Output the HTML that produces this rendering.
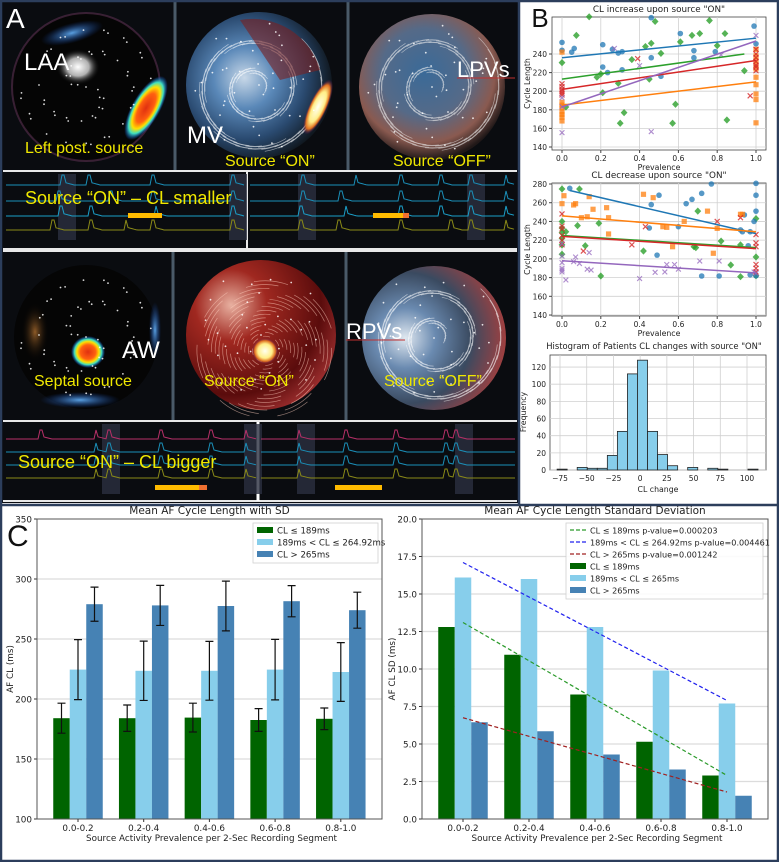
<!DOCTYPE html>
<html><head><meta charset="utf-8">
<style>
html,body{margin:0;padding:0;background:#fff;}
svg{display:block;font-family:"DejaVu Sans","Liberation Sans",sans-serif;}
</style></head>
<body>
<svg id="fig" width="779" height="862" viewBox="0 0 779 862" xmlns="http://www.w3.org/2000/svg">
<defs>
  <radialGradient id="gLAA" cx="0.5" cy="0.5" r="0.5"><stop offset="0" stop-color="#fff"/><stop offset="0.5" stop-color="#ddd" stop-opacity="0.8"/><stop offset="1" stop-color="#000" stop-opacity="0"/></radialGradient>
  <radialGradient id="gJet" cx="0.5" cy="0.5" r="0.5"><stop offset="0" stop-color="#e03010"/><stop offset="0.45" stop-color="#ff6010"/><stop offset="0.65" stop-color="#ffe000"/><stop offset="0.8" stop-color="#40e0c0"/><stop offset="1" stop-color="#1060ff" stop-opacity="0"/></radialGradient>
  <radialGradient id="gHot" cx="0.5" cy="0.5" r="0.5"><stop offset="0" stop-color="#fffff0"/><stop offset="0.55" stop-color="#ffee88"/><stop offset="0.8" stop-color="#e07020"/><stop offset="1" stop-color="#501060" stop-opacity="0"/></radialGradient>
  <radialGradient id="gBlue" cx="0.5" cy="0.5" r="0.5"><stop offset="0" stop-color="#5aa0e0"/><stop offset="1" stop-color="#1040a0" stop-opacity="0"/></radialGradient>
  <radialGradient id="gS2" cx="0.4" cy="0.45" r="0.6"><stop offset="0" stop-color="#c8d8e8"/><stop offset="0.35" stop-color="#5a88b8"/><stop offset="0.7" stop-color="#2a4a70"/><stop offset="1" stop-color="#101820"/></radialGradient>
  <radialGradient id="gS3" cx="0.45" cy="0.4" r="0.6"><stop offset="0" stop-color="#3a6a98"/><stop offset="0.5" stop-color="#556a88"/><stop offset="0.8" stop-color="#8a5a50"/><stop offset="1" stop-color="#201818"/></radialGradient>
  <radialGradient id="gRed" cx="0.3" cy="0.3" r="0.8"><stop offset="0" stop-color="#e8b0a0"/><stop offset="0.3" stop-color="#a02820"/><stop offset="0.75" stop-color="#5a0c0c"/><stop offset="1" stop-color="#a03030"/></radialGradient>
  <radialGradient id="gR3" cx="0.3" cy="0.5" r="0.7"><stop offset="0" stop-color="#e0e8f0"/><stop offset="0.3" stop-color="#6a8ab0"/><stop offset="0.65" stop-color="#3a4a60"/><stop offset="1" stop-color="#a04040"/></radialGradient>
  <radialGradient id="gOr" cx="0.5" cy="0.5" r="0.5"><stop offset="0" stop-color="#b07030" stop-opacity="0.8"/><stop offset="1" stop-color="#000" stop-opacity="0"/></radialGradient>
</defs>
<rect x="0" y="0" width="779" height="862" fill="#fff"/>
<g id="panelA"></g>
<g id="panelB"></g>
<g id="panelC"></g>
</svg>
<script>
// ===== Panel C data =====
const groups = ["0.0-0.2","0.2-0.4","0.4-0.6","0.6-0.8","0.8-1.0"];
const meanLow = [184,184,184.5,182.5,183.5];
const meanMid = [224.5,223.5,223.5,224.5,222.5];
const meanHigh = [279,278,277.5,281.5,274];
const sdLow = [12.5,11,12,9.5,9];
const sdMid = [25,24.7,24.5,25.2,24.5];
const sdHigh = [14.2,16.7,20.7,13,15];
const cTicksLeft = [100,150,200,250,300,350];
const sdValLow = [12.8,10.95,8.3,5.15,2.9];
const sdValMid = [16.1,16.0,12.8,9.9,7.7];
const sdValHigh = [6.45,5.85,4.3,3.3,1.55];
const trendStart = [13.1,17.1,6.75];
const trendEnd = [2.9,7.9,1.8];
const cTicksRight = [0,2.5,5,7.5,10,12.5,15,17.5,20];
// ===== Panel B data =====
const incBlue = [[0,252.5],[0,244],[0.05,242],[0.063,246],[0.21,250],[0.21,226],[0.235,220],[0.26,245],[0.29,241],[0.31,242.5],[0.31,223],[0.46,279],[0.46,236],[0.51,216],[0.61,262],[0.68,236],[0.68,243.6],[0.79,242.5],[0.99,270],[1,251]];
const incGreen = [[0,230.7],[0.074,260],[0.14,280],[0.18,215],[0.2,218.5],[0.21,198.4],[0.29,208.5],[0.3,165.5],[0.32,177],[0.36,234],[0.43,248],[0.46,251.5],[0.45,213],[0.48,275],[0.51,240.7],[0.585,186],[0.57,165.5],[0.61,253],[0.67,260],[0.71,262],[0.76,276],[0.8,249],[0.84,262],[0.85,169],[0.94,222],[0.02,183]];
const incRed = [[0,208],[0,205],[0,202],[0,200],[0,198],[0,196],[0.39,235],[0.97,195],[1,245],[1,240],[1,236],[1,232],[1,228],[1,226],[1,222]];
const incOrange = [[0,242],[0,188],[0,185],[0,182],[0,178],[0,175],[0,172],[0,168],[1,245],[1,238],[1,233],[1,228],[1,224],[1,215],[1,207],[1,197],[1,191],[1,166]];
const incPurple = [[0,155.4],[0,183.4],[0,193],[0.27,246],[0.40,227.5],[0.46,156.5],[1,260],[0.82,239]];
const incFitIntercept = [236,185,213,202,183];
const incFitSlope = [21,25,28.7,31,71];
const incFitEnd = [1,1,0.94,1,1];
const decBlue = [[0.04,275.4],[0.46,258],[0.5,268],[0.49,204],[0.6,234.4],[0.64,259],[0.67,263.6],[0.72,270],[0.72,181.7],[0.81,181.7],[0.45,233],[0.92,231],[0.93,229],[0.94,247],[0.96,214],[0.97,229],[0.97,183],[0.99,240],[1,280.7],[1,268],[1,251],[1,182],[0.77,280]];
const decGreen = [[0,274.7],[0.09,274.7],[0,240],[0,233],[0,228],[0,222],[0,215],[0,205],[0.02,229],[0.08,235.5],[0.19,238],[0.12,214],[0.2,181.7],[0.42,208.4],[0.7,251],[0.68,213],[0.69,212],[0.82,219],[0.87,193.5],[0.92,215],[0.92,181],[1,243],[1,202],[1,182]];
const decOrange = [[0,259],[0.01,267.5],[0.06,257.6],[0.07,259],[0.1,244],[0.13,245],[0.14,266.5],[0.16,253],[0.23,254.7],[0.24,244],[0.24,226.6],[0.42,269],[0.47,265.4],[0.52,234.4],[0.54,233.7],[0.57,213],[0.63,240],[0.75,251],[0.78,206],[0.8,232.6],[0.92,247.6],[0.93,247.6]];
const decRed = [[0,248],[0,235],[0,232],[0,225],[0,220],[0,215],[0.11,208.4],[0.36,215],[0.43,234.4],[0.8,240],[0.92,244],[1,226],[1,217],[1,213],[1,194],[1,190],[1,186]];
const decPurple = [[0,216],[0,203],[0,196],[0,190],[0,188],[0,186],[0.02,177.5],[0.06,197],[0.07,202],[0.09,195],[0.14,206.7],[0.13,189],[0.15,188],[0.4,179],[0.48,185.6],[0.53,186],[0.54,194],[0.58,194],[0.6,189],[0.71,197.7],[0.81,197.7],[0.99,186],[1,184.6]];
const decFitIntercept = [275,246,225,224,198];
const decFitSlope = [-48,-17,-13,-13,-13];
const decFitStart = [0.04,0,0,0,0];
const histCounts = [1,0,3,2,2,17,45,112,128,45,18,5,0,3,0,2,1,0,0,1];
const histBinStart = -77.7;
const histBinWidth = 9.4;
const scatterYTicks1 = [140,160,180,200,220,240];
const scatterYTicks2 = [140,160,180,200,220,240,260,280];
const prevTicks = [0,0.2,0.4,0.6,0.8,1.0];
const histXTicks = [-75,-50,-25,0,25,50,75,100];
const histYTicks = [0,20,40,60,80,100,120];

const NS="http://www.w3.org/2000/svg";
function mk(parent,tag,attrs,text){const e=document.createElementNS(NS,tag);for(const k in attrs)e.setAttribute(k,attrs[k]);if(text!==undefined)e.textContent=text;parent.appendChild(e);return e;}

// ================= PANEL A =================
const A=document.getElementById('panelA');
mk(A,'rect',{x:2,y:2,width:517,height:501,fill:'#0a0c10'});
[[175,2,175,170],[348,2,348,170],[173,252,173,420],[346,252,346,420]].forEach(l=>{const e=mk(A,'line',{x1:l[0],y1:l[1],x2:l[2],y2:l[3],stroke:'#4a5a68','stroke-width':3});});
[[3,171,517,171],[3,249,517,249],[3,251,517,251],[3,421,517,421],[3,501,517,501]].forEach(l=>{mk(A,'line',{x1:l[0],y1:l[1],x2:l[2],y2:l[3],stroke:'#e8e8e8','stroke-width':2});});
mk(A,'line',{x1:247,y1:172,x2:247,y2:249,stroke:'#e8e8e8','stroke-width':2});
mk(A,'line',{x1:258,y1:422,x2:258,y2:501,stroke:'#ffffff','stroke-width':3});

function sphere(cx,cy,r,fill,name){const g=mk(A,'g',{});
  mk(g,'circle',{cx:cx,cy:cy,r:r,fill:fill});
  return g;}
function streaks(g,cx,cy,r,col,n){for(let i=0;i<n;i++){const a=i*2.39996;const rr=r*(0.15+0.8*((i*37)%n)/n);const x=cx+rr*Math.cos(a),y=cy+rr*Math.sin(a);const x2=cx+rr*Math.cos(a+0.5),y2=cy+rr*Math.sin(a+0.5);
  mk(g,'path',{d:`M${x.toFixed(1)},${y.toFixed(1)} A${rr.toFixed(1)},${rr.toFixed(1)} 0 0 1 ${x2.toFixed(1)},${y2.toFixed(1)}`,stroke:col,'stroke-width':0.7,fill:'none',opacity:0.55});}}
function dots(g,cx,cy,r,n){for(let i=0;i<n;i++){const a=i*2.4+0.3;const rr=r*Math.sqrt(((i*53)%n)/n)*0.95;mk(g,'circle',{cx:(cx+rr*Math.cos(a)).toFixed(1),cy:(cy+rr*Math.sin(a)).toFixed(1),r:0.9,fill:'#fff',opacity:0.85});}}
let s=sphere(86,87,74,'#050505','sphere-laa');
mk(s,'circle',{cx:86,cy:87,r:74,fill:'none',stroke:'#5a3050','stroke-width':2,opacity:0.6});
mk(s,'ellipse',{cx:72,cy:33,rx:32,ry:10,fill:'url(#gBlue)',transform:'rotate(-15 72 33)'});
mk(s,'ellipse',{cx:78,cy:67,rx:22,ry:18,fill:'url(#gLAA)'});
mk(s,'ellipse',{cx:146,cy:108,rx:14,ry:36,fill:'url(#gJet)',transform:'rotate(30 146 108)'});
dots(s,86,87,70,60);
s=sphere(259,85,73,'url(#gS2)','sphere-mv-on');
streaks(s,255,88,72,'#fff',120);
mk(s,'ellipse',{cx:318,cy:107,rx:9,ry:30,fill:'url(#gHot)',transform:'rotate(25 318 107)'});
mk(s,'path',{d:'M240,20 A70,70 0 0 1 320,70 L280,80 Z',fill:'#7a2020',opacity:0.6});
dots(s,259,85,70,40);
s=sphere(432,87,73,'url(#gS3)','sphere-lpvs-off');
streaks(s,432,87,72,'#eee',120);
dots(s,432,87,70,40);
s=sphere(86,337,72,'#050505','sphere-septal');
mk(s,'ellipse',{cx:35,cy:332,rx:14,ry:30,fill:'url(#gOr)'});
mk(s,'ellipse',{cx:155,cy:330,rx:6,ry:28,fill:'url(#gBlue)'});
mk(s,'ellipse',{cx:80,cy:400,rx:40,ry:8,fill:'url(#gBlue)'});
mk(s,'ellipse',{cx:88,cy:352,rx:17,ry:16,fill:'url(#gJet)'});
dots(s,86,337,70,60);
s=sphere(261,335,75,'url(#gRed)','sphere-septal-on');
streaks(s,265,350,74,'#ffd0c0',110);
mk(s,'ellipse',{cx:265,cy:351,rx:13,ry:13,fill:'url(#gHot)'});
dots(s,261,335,70,35);
s=sphere(434,338,72,'url(#gR3)','sphere-rpvs-off');
streaks(s,434,338,72,'#fff',120);
dots(s,434,338,70,35);

function trace(x0,x1,y,col,spikes,amp,name){let d=`M${x0},${y}`;for(let x=x0;x<=x1;x+=2){let v=0;spikes.forEach(sp=>{const dx=x-sp;if(dx>=0&&dx<3)v=-amp;else if(dx>=3&&dx<12)v=-amp*0.25*(1-(dx-3)/9);});d+=` L${x},${(y+v).toFixed(1)}`;}
  const e=mk(A,'path',{d:d,stroke:col,'stroke-width':1,fill:'none'});}
function bands(xs,y0,y1){xs.forEach(x=>mk(A,'rect',{x:x,y:y0,width:18,height:y1-y0,fill:'#2a3040',opacity:0.8}));}
bands([58,229],174,240);bands([298,467],174,240);
bands([102,244],424,494);bands([297,455],424,494);
const tr1=[[62,88,152,232],[58,110,152,232],[60,90,155,232],[52,90,125,152,232]];
const tr2=[[302,355,400,440,470,505],[302,340,400,440,470,505],[300,345,400,440,470,505],[300,338,400,450,470,505]];
const y1s=[185,201,216,230];const c1=['#1b8fb8','#1b8fb8','#1b9fc8','#8a8a18'];
for(let i=0;i<4;i++){trace(6,245,y1s[i],c1[i],tr1[i],10,'ecg-trace');trace(250,515,y1s[i],c1[i],tr2[i],10,'ecg-trace');}
const y2s=[439,452,465,478];const c2=['#b83068','#1b8fb8','#1b8fb8','#8a8a18'];
const tr3=[[40,95,108,160,210,245],[95,108,160,210,245],[95,108,160,210,245],[95,108,160,210,245]];
const tr4=[[298,345,395,445,455],[298,345,395,445,455],[298,345,395,445,455],[298,345,395,445,455]];
for(let i=0;i<4;i++){trace(6,256,y2s[i],c2[i],tr3[i],9,'ecg-trace');trace(261,515,y2s[i],c2[i],tr4[i],9,'ecg-trace');}
[[128,213,34,0],[373,213,36,6],[155,485,52,8],[335,485,47,0]].forEach(b=>{const g=mk(A,'g',{});mk(g,'rect',{x:b[0],y:b[1],width:b[2],height:5,fill:'#ffbb00'});if(b[3])mk(g,'rect',{x:b[0]+b[2]-b[3],y:b[1],width:b[3],height:5,fill:'#f07030'});});
function atext(x,y,t,col,size,name){const e=mk(A,'text',{x:x,y:y,fill:col,'font-size':size,'font-family':'"Liberation Sans","DejaVu Sans",sans-serif'},t);return e;}
atext(6,28,'A','#fff',28,'panel-a-label');
atext(24,70,'LAA','#fff',24,'laa-label');
atext(25,153,'Left post. source','#f0e800',16,'left-post-source-label');
atext(187,143,'MV','#fff',24,'mv-label');
atext(225,166,'Source “ON”','#f0e800',16,'source-on-label');
atext(393,166,'Source “OFF”','#f0e800',16,'source-off-label');
atext(457,77,'LPVs','#fff',22,'lpvs-label');
mk(A,'line',{x1:457,y1:78,x2:515,y2:78,stroke:'#c03030','stroke-width':1});
atext(25,204,'Source “ON” – CL smaller','#f0e800',18,'cl-smaller-label');
atext(122,358,'AW','#fff',24,'aw-label');
atext(34,386,'Septal source','#f0e800',16,'septal-source-label');
atext(204,386,'Source “ON”','#f0e800',16,'source-on-label-2');
atext(346,339,'RPVs','#fff',22,'rpvs-label');
mk(A,'line',{x1:346,y1:340,x2:405,y2:340,stroke:'#c03030','stroke-width':1});
atext(384,386,'Source “OFF”','#f0e800',16,'source-off-label-2');
atext(18,468,'Source “ON” – CL bigger','#f0e800',18,'cl-bigger-label');

// ================= PANEL B =================
const B=document.getElementById('panelB');
const tabBlue='#1f77b4',tabOr='#ff7f0e',tabGr='#2ca02c',tabRed='#d62728',tabPu='#9467bd';
function btext(x,y,t,size,anchor,name){const e=mk(B,'text',{x:x,y:y,'font-size':size,'text-anchor':anchor||'middle',fill:'#111','font-family':'"Liberation Sans",sans-serif'},t);return e;}
const sx=p=>562+p*194;
function marker(g,type,x,y,col){let e;
  if(type==='o')e=mk(g,'circle',{cx:x,cy:y,r:2.8,fill:col,opacity:0.75});
  else if(type==='s')e=mk(g,'rect',{x:x-2.6,y:y-2.6,width:5.2,height:5.2,fill:col,opacity:0.75});
  else if(type==='d')e=mk(g,'path',{d:`M${x},${y-3.6} L${x+3.4},${y} L${x},${y+3.6} L${x-3.4},${y} Z`,fill:col,opacity:0.8});
  else if(type==='x')e=mk(g,'path',{d:`M${x-2.5},${y-2.5} L${x+2.5},${y+2.5} M${x-2.5},${y+2.5} L${x+2.5},${y-2.5}`,stroke:col,'stroke-width':1.2,opacity:0.8});
  else e=mk(g,'path',{d:`M${x-2.8},${y-2} L${x-2},${y-2.8} L${x},${y-0.8} L${x+2},${y-2.8} L${x+2.8},${y-2} L${x+0.8},${y} L${x+2.8},${y+2} L${x+2},${y+2.8} L${x},${y+0.8} L${x-2},${y+2.8} L${x-2.8},${y+2} L${x-0.8},${y} Z`,fill:col,opacity:0.75});
  }
function scatterPlot(top,bottom,sy,yticks,title,series,fits,name){
  const g=mk(B,'g',{});
  mk(g,'rect',{x:552,y:top,width:214,height:bottom-top,fill:'#fff',stroke:'#444','stroke-width':0.8});
  yticks.forEach(t=>{const y=sy(t);mk(g,'line',{x1:552,x2:766,y1:y,y2:y,stroke:'#d0d0d0','stroke-width':0.8});mk(g,'line',{x1:549,x2:552,y1:y,y2:y,stroke:'#444'});const e=mk(g,'text',{x:547,y:y+3,'font-size':7.5,'text-anchor':'end',fill:'#222'},String(t));});
  prevTicks.forEach(t=>{const x=sx(t);mk(g,'line',{x1:x,x2:x,y1:top,y2:bottom,stroke:'#d0d0d0','stroke-width':0.8});mk(g,'line',{x1:x,x2:x,y1:bottom,y2:bottom+3,stroke:'#444'});const e=mk(g,'text',{x:x,y:bottom+11,'font-size':7.5,'text-anchor':'middle',fill:'#222'},t.toFixed(1));});
  series.forEach(sr=>sr.data.forEach(p=>{const y=sy(p[1]);if(y>=top-3&&y<=bottom)marker(g,sr.m,sx(p[0]),y,sr.c);}));
  fits.forEach(f=>{const l=mk(g,'line',{x1:sx(f.a),y1:sy(f.i+f.s*f.a),x2:sx(f.b),y2:sy(f.i+f.s*f.b),stroke:f.c,'stroke-width':1.5});});
  const t=mk(g,'text',{x:659,y:top-5,'font-size':8.8,'text-anchor':'middle',fill:'#222'},title);
  const xl=mk(g,'text',{x:659,y:bottom+20,'font-size':7.8,'text-anchor':'middle',fill:'#222'},'Prevalence');
  const yl=mk(g,'text',{x:530,y:(top+bottom)/2,'font-size':7.8,'text-anchor':'middle',fill:'#222',transform:`rotate(-90 530 ${(top+bottom)/2})`},'Cycle Length');
}
const sy1=v=>54+(240-v)*0.93;
const fitCols=[tabBlue,tabOr,tabGr,tabRed,tabPu];
scatterPlot(17,150,sy1,scatterYTicks1,'CL increase upon source "ON"',
 [{data:incGreen,m:'d',c:tabGr},{data:incBlue,m:'o',c:tabBlue},{data:incOrange,m:'s',c:tabOr},{data:incRed,m:'x',c:tabRed},{data:incPurple,m:'P',c:tabPu}],
 fitCols.map((c,i)=>({c:c,i:incFitIntercept[i],s:incFitSlope[i],a:0,b:incFitEnd[i]})),'scatter-cl-increase');
const sy2=v=>184+(280-v)*0.936;
scatterPlot(183,316,sy2,scatterYTicks2,'CL decrease upon source "ON"',
 [{data:decGreen,m:'d',c:tabGr},{data:decBlue,m:'o',c:tabBlue},{data:decOrange,m:'s',c:tabOr},{data:decRed,m:'x',c:tabRed},{data:decPurple,m:'P',c:tabPu}],
 fitCols.map((c,i)=>({c:c,i:decFitIntercept[i],s:decFitSlope[i],a:decFitStart[i],b:1})),'scatter-cl-decrease');
(function(){const g=mk(B,'g',{});
 const hx=v=>560+(v+75)*1.0686, hy=c=>470-c*0.858;
 mk(g,'rect',{x:550,y:355,width:216,height:115,fill:'#fff',stroke:'#444','stroke-width':0.8});
 histYTicks.forEach(t=>{const y=hy(t);mk(g,'line',{x1:550,x2:766,y1:y,y2:y,stroke:'#d0d0d0','stroke-width':0.8});const e=mk(g,'text',{x:546,y:y+3,'font-size':7.5,'text-anchor':'end',fill:'#222'},String(t));});
 histXTicks.forEach(t=>{const x=hx(t);mk(g,'line',{x1:x,x2:x,y1:355,y2:470,stroke:'#d0d0d0','stroke-width':0.8});const e=mk(g,'text',{x:x,y:481,'font-size':7.5,'text-anchor':'middle',fill:'#222'},t<0?'\u2212'+Math.abs(t):String(t));});
 histCounts.forEach((c,k)=>{if(c<=0)return;const x0=hx(histBinStart+k*histBinWidth),x1=hx(histBinStart+(k+1)*histBinWidth);const r=mk(g,'rect',{x:x0,y:hy(c),width:x1-x0,height:hy(0)-hy(c),fill:'#87ceeb',stroke:'#222','stroke-width':0.8});});
 const t=mk(g,'text',{x:654,y:349,'font-size':8.4,'text-anchor':'middle',fill:'#222'},'Histogram of Patients CL changes with source "ON"');
 const xl=mk(g,'text',{x:658,y:492,'font-size':7.8,'text-anchor':'middle',fill:'#222'},'CL change');
 const yl=mk(g,'text',{x:526,y:412,'font-size':7.8,'text-anchor':'middle',fill:'#222',transform:'rotate(-90 526 412)'},'Frequency');
})();
btext(540,27,'B',26,'middle','panel-b-label');
[[519,0,519,505],[0,505,779,505],[1,0,1,862],[778,0,778,862],[0,1,779,1],[0,861,779,861]].forEach(l=>{mk(B,'line',{x1:l[0],y1:l[1],x2:l[2],y2:l[3],stroke:'#2c3e5c','stroke-width':2.5});});

// ================= PANEL C =================
const C=document.getElementById('panelC');
const colLow='#006400',colMid='#87ceeb',colHigh='#4682b4';
function barChart(o){
 const g=mk(C,'g',{});
 const L=o.left,R=o.right,T=519,Bt=819;
 const ys=v=>Bt-(v-o.ymin)/(o.ymax-o.ymin)*(Bt-T);
 const xc=i=>o.x0+i*o.dx;
 mk(g,'rect',{x:L,y:T,width:R-L,height:Bt-T,fill:'#fff'});
 o.ticks.forEach(t=>{const y=ys(t);if(t>o.ymin&&t<o.ymax)mk(g,'line',{x1:L,x2:R,y1:y,y2:y,stroke:'#dcdcdc','stroke-width':1.2});mk(g,'line',{x1:L-3,x2:L,y1:y,y2:y,stroke:'#333'});const e=mk(g,'text',{x:L-5,y:y+3.5,'font-size':8.8,'text-anchor':'end',fill:'#222'},o.fmt(t));});
 const bw=16.5;
 const series=[[o.vals[0],colLow,o.errs?o.errs[0]:null],[o.vals[1],colMid,o.errs?o.errs[1]:null],[o.vals[2],colHigh,o.errs?o.errs[2]:null]];
 series.forEach((sr,si)=>sr[0].forEach((v,i)=>{const x=xc(i)+(si-1)*bw-bw/2;const r=mk(g,'rect',{x:x,y:ys(v),width:bw,height:Bt-ys(v),fill:sr[1]});
   if(sr[2]){const cx=x+bw/2,e=sr[2][i];const eg=mk(g,'path',{d:`M${cx},${ys(v-e)} V${ys(v+e)} M${cx-4},${ys(v-e)} H${cx+4} M${cx-4},${ys(v+e)} H${cx+4}`,stroke:'#111','stroke-width':1.2,fill:'none'});}}));
 if(o.trends){const tc=['#2a9a2a','#2020ee','#a02020'];o.trends[0].forEach((s0,k)=>{const l=mk(g,'line',{x1:xc(0),y1:ys(s0),x2:xc(4),y2:ys(o.trends[1][k]),stroke:tc[k],'stroke-width':1.2,'stroke-dasharray':'4,2.5'});});}
 mk(g,'rect',{x:L,y:T,width:R-L,height:Bt-T,fill:'none',stroke:'#555','stroke-width':1});
 groups.forEach((gname,i)=>{mk(g,'line',{x1:xc(i),x2:xc(i),y1:Bt,y2:Bt+3,stroke:'#333'});const e=mk(g,'text',{x:xc(i),y:Bt+12,'font-size':8.8,'text-anchor':'middle',fill:'#222'},gname);});
 let e=mk(g,'text',{x:(L+R)/2,y:514,'font-size':10.5,'text-anchor':'middle',fill:'#222'},o.title);
 e=mk(g,'text',{x:(L+R)/2+2,y:841,'font-size':8.8,'text-anchor':'middle',fill:'#222'},'Source Activity Prevalence per 2-Sec Recording Segment');
 e=mk(g,'text',{x:o.ylx,y:669,'font-size':8.8,'text-anchor':'middle',fill:'#222',transform:`rotate(-90 ${o.ylx} 669)`},o.ylabel);
 const lg=mk(g,'g',{});
 mk(lg,'rect',{x:o.leg.x,y:523,width:o.leg.w,height:o.leg.items.length*12+4,fill:'#fff',stroke:'#ccc','stroke-width':0.8,opacity:0.9});
 o.leg.items.forEach((it,k)=>{const y=530+k*12;const ent=mk(lg,'g',{});
   if(it[2]==='line')mk(ent,'line',{x1:o.leg.x+4,x2:o.leg.x+20,y1:y,y2:y,stroke:it[1],'stroke-width':1.3,'stroke-dasharray':'4,2'});
   else mk(ent,'rect',{x:o.leg.x+4,y:y-3,width:16,height:6,fill:it[1]});
   mk(ent,'text',{x:o.leg.x+24,y:y+3.3,'font-size':o.leg.fs,fill:'#222'},it[0]);});
}
barChart({name:'chart-mean-af-cl',left:37,right:382,ymin:100,ymax:350,ticks:cTicksLeft,fmt:t=>String(t),x0:78,dx:65.7,
 vals:[meanLow,meanMid,meanHigh],errs:[sdLow,sdMid,sdHigh],title:'Mean AF Cycle Length with SD',ylabel:'AF CL (ms)',ylx:13,
 leg:{x:253,w:125,fs:8.6,items:[['CL ≤ 189ms',colLow],['189ms < CL ≤ 264.92ms',colMid],['CL > 265ms',colHigh]]}});
barChart({name:'chart-af-cl-sd',left:422,right:768,ymin:0,ymax:20,ticks:cTicksRight,fmt:t=>t.toFixed(1),x0:463,dx:66,
 vals:[sdValLow,sdValMid,sdValHigh],trends:[trendStart,trendEnd],title:'Mean AF Cycle Length Standard Deviation',ylabel:'AF CL SD (ms)',ylx:395,
 leg:{x:566,w:197,fs:8.1,items:[['CL ≤ 189ms p-value=0.000203','#2a9a2a','line'],['189ms < CL ≤ 264.92ms p-value=0.004461','#2020ee','line'],['CL > 265ms p-value=0.001242','#a02020','line'],['CL ≤ 189ms',colLow],['189ms < CL ≤ 265ms',colMid],['CL > 265ms',colHigh]]}});
const cl=mk(C,'text',{x:7,y:546,'font-size':30,fill:'#111','font-family':'"Liberation Sans",sans-serif'},'C');

</script>
</body></html>
